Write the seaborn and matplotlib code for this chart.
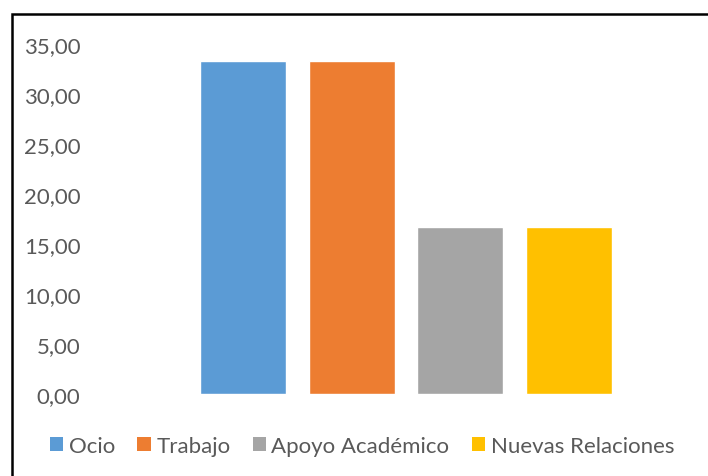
import matplotlib
matplotlib.use("Agg")
import matplotlib.pyplot as plt
import seaborn as sns
import pandas as pd
from matplotlib.patches import Patch, Rectangle
from matplotlib.ticker import FuncFormatter

categories = ["Ocio", "Trabajo", "Apoyo Académico", "Nuevas Relaciones"]
values = [33.33, 33.33, 16.67, 16.67]
colors = ["#5B9BD5", "#ED7D31", "#A5A5A5", "#FFC000"]
yticks = [0, 5, 10, 15, 20, 25, 30, 35]

sns.set_theme(style="white")
plt.rcParams["font.family"] = ["Lato", "DejaVu Sans"]

W, H = 708, 477
fig = plt.figure(figsize=(W / 100, H / 100), dpi=100)
L, R, T, B = 95, 700, 45, 395
ax = fig.add_axes([L / W, 1 - B / H, (R - L) / W, (B - T) / H])

df = pd.DataFrame({"cat": categories, "val": values})
sns.barplot(data=df, x="cat", y="val", hue="cat", palette=colors,
            width=0.79, legend=False, ax=ax, saturation=1)

unit = 108.7
ax.set_xlim((L - 243) / unit, (R - 243) / unit)
ax.set_ylim(0, 35)
ax.set_yticks(yticks)
ax.yaxis.set_major_formatter(FuncFormatter(lambda v, p: f"{v:.2f}".replace(".", ",")))
ax.set_xticks([])
ax.set_xlabel("")
ax.set_ylabel("")
ax.tick_params(axis="y", labelsize=16, labelcolor="#595959", length=0, pad=10.5)
for s in ax.spines.values():
    s.set_visible(False)

handles = [Patch(facecolor=c, edgecolor="none", label=l) for c, l in zip(colors, categories)]
fig.legend(handles=handles, loc="center", bbox_to_anchor=(362 / W, 1 - 447 / H),
           ncol=4, frameon=False, fontsize=16, handlelength=0.6, handleheight=0.6,
           handletextpad=0.25, columnspacing=1.0, labelcolor="#595959")

fig.patches.append(Rectangle((12 / W, -0.1), 1.2, 1 - 15 / H + 0.1, transform=fig.transFigure,
                             fill=False, edgecolor="black", linewidth=1.8, figure=fig))

fig.savefig("out.png", dpi=100)
